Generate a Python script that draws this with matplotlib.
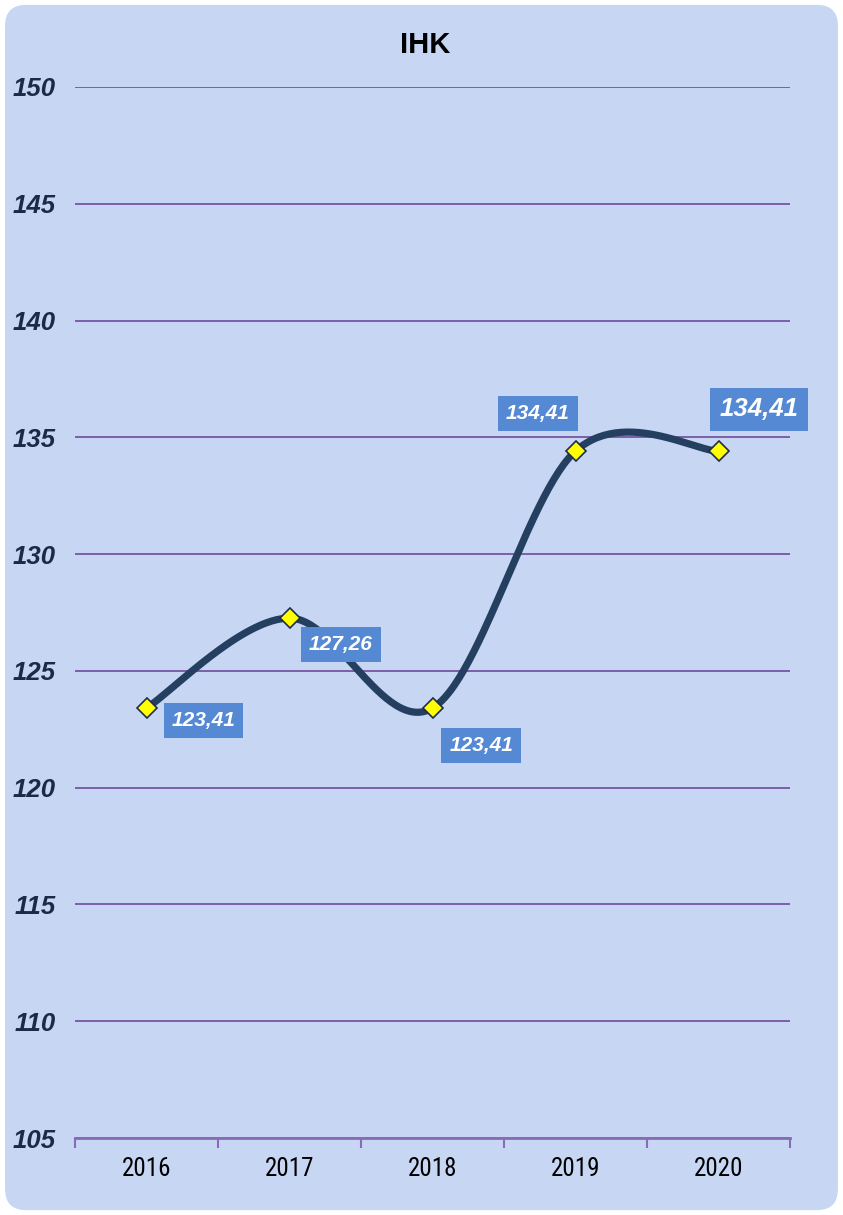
import numpy as np
import matplotlib
matplotlib.use("Agg")
import matplotlib.pyplot as plt
from matplotlib.patches import FancyBboxPatch
from matplotlib import font_manager

# ---- data ----
years = ["2016", "2017", "2018", "2019", "2020"]
ihk = [123.41, 127.26, 123.41, 134.41, 134.41]
labels = ["123,41", "127,26", "123,41", "134,41", "134,41"]
label_offsets = [(41, -9), (37, -19), (35, -27), (-27, 27), (29, 30)]  # points
label_sizes = [15, 15, 15, 15, 18.5]

names = {f.name for f in font_manager.fontManager.ttflist}
narrow = next((n for n in ["Liberation Sans Narrow", "Roboto Condensed", "Open Sans Condensed",
                           "Noto Sans Condensed", "DejaVu Sans Condensed"] if n in names),
              "Liberation Sans")

plt.rcParams["font.family"] = ["Liberation Sans", "DejaVu Sans"]

W, H = 843, 1215
fig = plt.figure(figsize=(W / 100, H / 100), dpi=100, facecolor="white")
bg = FancyBboxPatch((0.006, 0.004), 0.988, 0.992, boxstyle="round,pad=0,rounding_size=0.025",
                    transform=fig.transFigure, facecolor="#c7d6f3", edgecolor="none",
                    mutation_aspect=W / H, zorder=-10)
fig.patches.append(bg)

ax = fig.add_axes([75 / W, 77 / H, 715 / W, 1051 / H])
ax.set_facecolor("none")

# smoothed line (Excel-like Bezier through points)
x = np.arange(len(ihk), dtype=float)
y = np.array(ihk, dtype=float)
P = np.column_stack([x, y])
ext = np.vstack([P[0], P, P[-1]])
curve = []
t = np.linspace(0, 1, 60)[:, None]
for i in range(len(P) - 1):
    p0, p1, p2, p3 = ext[i], ext[i + 1], ext[i + 2], ext[i + 3]
    c1 = p1 + (p2 - p0) / 6
    c2 = p2 - (p3 - p1) / 6
    seg = (1 - t) ** 3 * p1 + 3 * (1 - t) ** 2 * t * c1 + 3 * (1 - t) * t ** 2 * c2 + t ** 3 * p2
    curve.append(seg)
curve = np.vstack(curve)

ax.plot(curve[:, 0], curve[:, 1], color="#243f60", lw=5.2, solid_capstyle="round", zorder=3)
ax.plot(x, y, ls="none", marker="D", ms=10.5, mfc="#ffff00", mec="#1f2d4a", mew=1.2, zorder=4)

for xi, yi, lab, off, fs in zip(x, y, labels, label_offsets, label_sizes):
    ax.annotate(lab, (xi, yi), xytext=off, textcoords="offset points", ha="center", va="center",
                fontsize=fs, fontweight="bold", fontstyle="italic", color="white", zorder=5,
                bbox=dict(boxstyle="square,pad=0.38", fc="#5589d4", ec="none"))

ax.set_xlim(-0.5, 4.5)
ax.set_ylim(105, 150)
ax.set_yticks(np.arange(105, 151, 5))
ax.grid(axis="y", color="#7b5ea8", lw=1.4, zorder=1)
ax.set_axisbelow(True)
for s in ["top", "right", "left"]:
    ax.spines[s].set_visible(False)
ax.spines["bottom"].set_color("#8a6bb8")
ax.spines["bottom"].set_linewidth(2)

ax.set_xticks(np.arange(-0.5, 4.6, 1))
ax.set_xticklabels([])
ax.tick_params(axis="x", which="major", length=7, width=1.5, color="#8a6bb8", direction="out")
ax.set_xticks(x, minor=True)
ax.set_xticklabels(years, minor=True, fontsize=18, family=narrow, color="black")
ax.tick_params(axis="x", which="minor", length=0, pad=14)

ax.tick_params(axis="y", length=0, pad=14)
for tl in ax.get_yticklabels():
    tl.set_fontsize(18.5)
    tl.set_fontweight("bold")
    tl.set_fontstyle("italic")
    tl.set_color("#1c2a48")

fig.text(0.504, 0.963, "IHK", ha="center", va="center", fontsize=21, fontweight="bold", color="black")

fig.savefig("out.png", dpi=100, facecolor="white")
